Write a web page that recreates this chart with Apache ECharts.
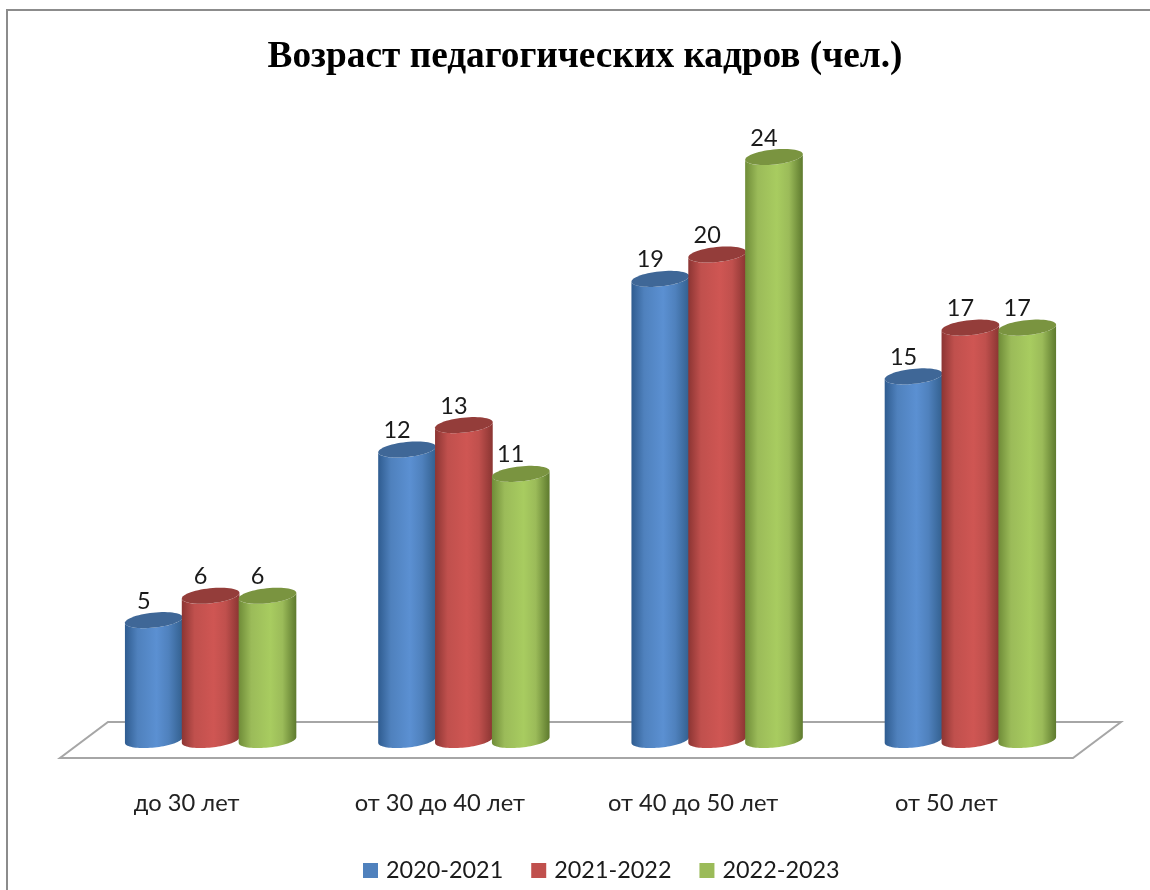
<!DOCTYPE html>
<html>
<head>
<meta charset="utf-8">
<style>html,body{margin:0;padding:0;background:#fff;overflow:hidden}#c{width:1150px;height:890px}</style>
<script src="https://cdn.jsdelivr.net/npm/echarts@6/dist/echarts.min.js"></script>
</head>
<body>
<div id="c"></div>
<script>
const categories = ['до 30 лет', 'от 30 до 40 лет', 'от 40 до 50 лет', 'от 50 лет'];
const seriesNames = ['2020-2021', '2021-2022', '2022-2023'];
const values2020 = [5, 12, 19, 15];
const values2021 = [6, 13, 20, 17];
const values2022 = [6, 11, 24, 17];

const palette = [
  {base:'#4f81bd', top:'#3f6797', edgeL:'#2f5c90', mid:'#5b90d2', edgeR:'#33608f'},
  {base:'#c0504d', top:'#943d3a', edgeL:'#8c3533', mid:'#cf5653', edgeR:'#8a3532'},
  {base:'#9bbb59', top:'#7a9440', edgeL:'#6f8c38', mid:'#a8cc60', edgeR:'#5e7a2e'}
];
const FONT = 'Lato';

function cylinder(si) {
  return function (params, api) {
    const i = api.value(0), v = api.value(1);
    const top = api.coord([i, v]), base = api.coord([i, 0]);
    const band = api.size([1, 0])[0];
    const pitch = band * 0.2245;
    const cx = top[0] + band * 0.0948 + (si - 1) * pitch;
    const rx = band * 0.1145, ry = 7.5, tilt = 6 * Math.PI / 180;
    const pt = (cy, t) => {
      const x = rx * Math.cos(t), y = ry * Math.sin(t);
      return [cx + x * Math.cos(tilt) + y * Math.sin(tilt),
              cy - x * Math.sin(tilt) + y * Math.cos(tilt)];
    };
    const body = [];
    for (let k = 0; k <= 40; k++) body.push(pt(base[1] - 2, Math.PI * k / 40));
    for (let k = 40; k >= 0; k--) body.push(pt(top[1], Math.PI * k / 40));
    const cap = [];
    for (let k = 0; k < 60; k++) cap.push(pt(top[1], 2 * Math.PI * k / 60));
    const c = palette[si];
    return {
      type: 'group',
      children: [
        {type: 'polygon', shape: {points: body}, style: {fill: {
          type: 'linear', x: 0, y: 0, x2: 1, y2: 0,
          colorStops: [
            {offset: 0, color: c.edgeL}, {offset: 0.22, color: c.base},
            {offset: 0.55, color: c.mid}, {offset: 0.76, color: c.base},
            {offset: 1, color: c.edgeR}
          ]}}},
        {type: 'polygon', shape: {points: cap}, style: {fill: c.top}},
        {type: 'text', style: {
          text: String(v), x: cx - 10, y: top[1] - 19,
          align: 'center', verticalAlign: 'middle',
          font: '23.5px ' + FONT, fill: '#1a1a1a'}}
      ]
    };
  };
}

function makeSeries(name, values, si) {
  return {
    name, type: 'custom', renderItem: cylinder(si), z: 3 + si,
    itemStyle: {color: palette[si].base},
    encode: {x: 0, y: 1},
    data: values.map((v, i) => [i, v])
  };
}

const chart = echarts.init(document.getElementById('c'), null, {renderer: 'canvas'});
chart.setOption({
  animation: false,
  backgroundColor: '#ffffff',
  title: {
    text: 'Возраст педагогических кадров (чел.)',
    left: 585, top: 39, textAlign: 'center', padding: 0,
    textStyle: {fontFamily: 'Liberation Serif', fontWeight: 'bold', fontSize: 37.3, color: '#000'}
  },
  legend: {
    data: seriesNames, left: 363, top: 859, icon: 'rect', padding: 0,
    itemWidth: 15, itemHeight: 15, itemGap: 28,
    textStyle: {fontFamily: FONT, fontSize: 23.4, color: '#1a1a1a', padding: [0, 0, 0, 3]}
  },
  grid: {left: 60, width: 1013, top: 157, height: 585},
  xAxis: {
    type: 'category', data: categories,
    axisLine: {show: false}, axisTick: {show: false},
    axisLabel: {fontFamily: FONT, fontSize: 23.7, color: '#222', margin: 49}
  },
  yAxis: {type: 'value', min: 0, max: 24, show: false},
  graphic: [
    {type: 'rect', z: -10, shape: {x: 7, y: 10, width: 1200, height: 940},
     style: {fill: '#fff', stroke: '#8c8c8c', lineWidth: 2}},
    {type: 'polygon', z: -5, shape: {points: [[60, 758], [1073, 758], [1121, 722], [108, 722]]},
     style: {fill: '#fff', stroke: '#a6a6a6', lineWidth: 2}}
  ],
  series: [
    makeSeries(seriesNames[0], values2020, 0),
    makeSeries(seriesNames[1], values2021, 1),
    makeSeries(seriesNames[2], values2022, 2)
  ]
});
</script>
</body>
</html>
